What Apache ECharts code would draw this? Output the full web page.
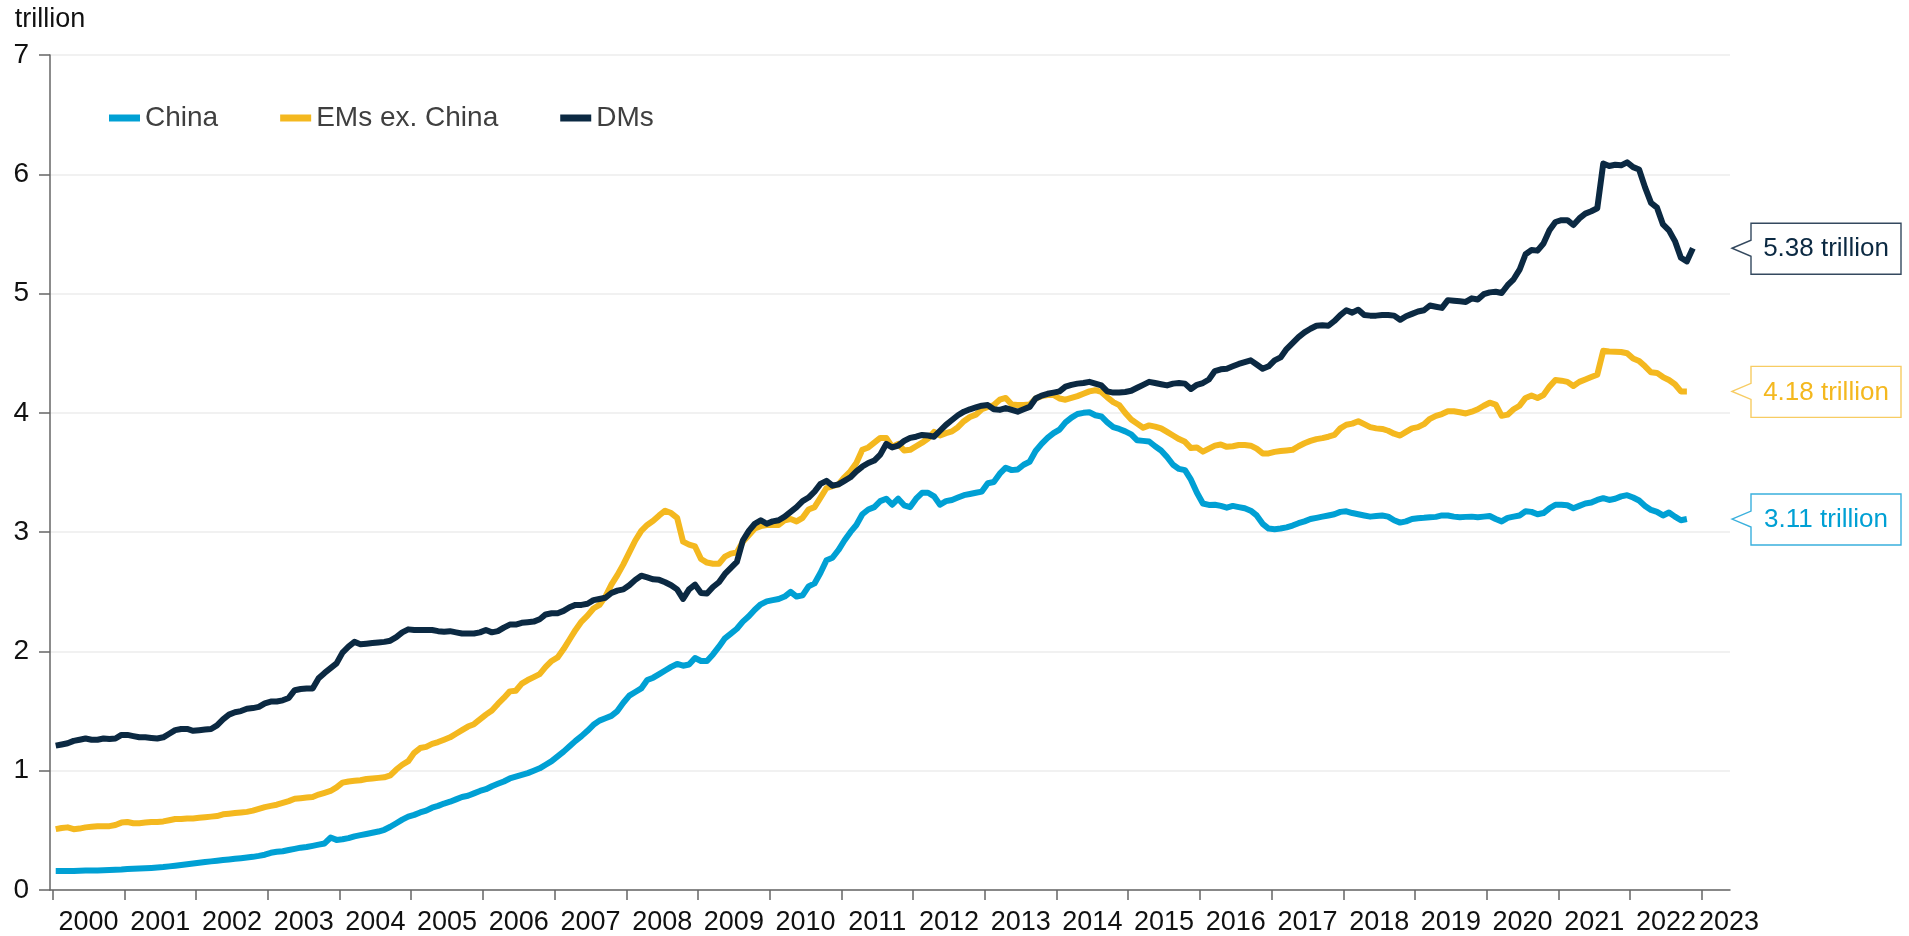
<!DOCTYPE html>
<html>
<head>
    <meta charset="utf-8"/>
    <title>China / EMs ex. China / DMs</title>
    <script src="https://cdn.jsdelivr.net/npm/echarts@6/dist/echarts.min.js"></script>
    <style>
        html, body { margin: 0; padding: 0; background: #fff; }
        #main { width: 1909px; height: 936px; }
    </style>
</head>
<body>
<div id="main"></div>
<script type="text/javascript">
    // 月度数据，2000年1月起
    var startYear = 2000;
    var seriesNames = ['China', 'EMs ex. China', 'DMs'];
    var colors = ['#00a0d4', '#f4b81f', '#0b2942'];

    var china = [
        0.16, 0.16, 0.16, 0.16, 0.162, 0.163, 0.163, 0.164, 0.165, 0.167, 0.17, 0.172,
        0.176, 0.178, 0.18, 0.182, 0.185, 0.188, 0.192, 0.198, 0.204, 0.21, 0.216, 0.222,
        0.228, 0.234, 0.24, 0.246, 0.251, 0.256, 0.262, 0.267, 0.272, 0.278, 0.286, 0.296,
        0.312, 0.32, 0.325, 0.335, 0.345, 0.355, 0.36, 0.37, 0.38, 0.39, 0.44, 0.42,
        0.425, 0.435, 0.45, 0.46, 0.47, 0.48, 0.49, 0.505, 0.53, 0.56, 0.59, 0.615,
        0.63, 0.65, 0.665, 0.69, 0.705, 0.725, 0.74, 0.76, 0.78, 0.79, 0.81, 0.83,
        0.845, 0.87, 0.89, 0.91, 0.935, 0.95, 0.965, 0.98, 1.0, 1.02, 1.05, 1.08,
        1.12, 1.16, 1.205, 1.25, 1.29, 1.335, 1.385, 1.42, 1.44, 1.46, 1.50, 1.57,
        1.63, 1.66, 1.69, 1.76, 1.78, 1.81, 1.84, 1.87, 1.895, 1.88, 1.89, 1.945,
        1.92, 1.92, 1.975, 2.04, 2.11, 2.15, 2.19, 2.25, 2.295, 2.35, 2.395, 2.42,
        2.43, 2.44, 2.46, 2.50, 2.46, 2.47, 2.545, 2.57, 2.66, 2.765, 2.785, 2.85,
        2.93, 3.00, 3.06, 3.15, 3.19, 3.21, 3.26, 3.28, 3.23, 3.28, 3.225, 3.21,
        3.28, 3.33, 3.33, 3.30, 3.23, 3.26, 3.27, 3.29, 3.31, 3.32, 3.33, 3.34,
        3.41, 3.42, 3.49, 3.54, 3.52, 3.525, 3.565, 3.59, 3.68, 3.74, 3.79, 3.83,
        3.86, 3.92, 3.96, 3.99, 4.00, 4.005, 3.98, 3.97, 3.92, 3.88, 3.865, 3.845,
        3.82, 3.77, 3.765, 3.76, 3.72, 3.685, 3.63, 3.565, 3.53, 3.52, 3.44, 3.33,
        3.24, 3.228, 3.23, 3.22, 3.205, 3.22, 3.21, 3.20, 3.18, 3.14, 3.07, 3.03,
        3.025, 3.03, 3.04, 3.055, 3.075, 3.09, 3.11, 3.12, 3.13, 3.14, 3.15, 3.17,
        3.175, 3.16, 3.15, 3.14, 3.13, 3.135, 3.14, 3.13, 3.10, 3.08, 3.09, 3.11,
        3.117, 3.12, 3.125, 3.128, 3.14, 3.14, 3.13, 3.125, 3.128, 3.13, 3.125, 3.13,
        3.135, 3.11, 3.09, 3.12, 3.13, 3.14, 3.175, 3.17, 3.15, 3.16, 3.20, 3.23,
        3.23, 3.225, 3.20, 3.22, 3.24, 3.248, 3.27, 3.285, 3.27, 3.28, 3.30, 3.31,
        3.29, 3.265, 3.22, 3.186, 3.17, 3.14, 3.165, 3.13, 3.10, 3.11
    ];

    var emsExChina = [
        0.51, 0.52, 0.525, 0.51, 0.515, 0.525, 0.53, 0.535, 0.535, 0.535, 0.545, 0.565,
        0.57, 0.56, 0.56, 0.565, 0.57, 0.57, 0.575, 0.585, 0.595, 0.595, 0.60, 0.60,
        0.605, 0.61, 0.615, 0.62, 0.635, 0.64, 0.645, 0.65, 0.655, 0.665, 0.68, 0.695,
        0.705, 0.715, 0.73, 0.745, 0.765, 0.77, 0.775, 0.78, 0.80, 0.815, 0.83, 0.86,
        0.90, 0.91, 0.915, 0.92, 0.93, 0.935, 0.94, 0.945, 0.96, 1.01, 1.05, 1.08,
        1.15, 1.19, 1.20, 1.225, 1.24, 1.26, 1.28, 1.31, 1.34, 1.37, 1.39, 1.43,
        1.47, 1.505, 1.56, 1.61, 1.665, 1.67, 1.73, 1.76, 1.785, 1.81, 1.87, 1.92,
        1.95, 2.02, 2.10, 2.18, 2.25, 2.30, 2.36, 2.39, 2.46, 2.56, 2.64, 2.73,
        2.83, 2.93, 3.01, 3.06, 3.095, 3.14, 3.18, 3.16, 3.12, 2.92, 2.895, 2.88,
        2.775, 2.745, 2.735, 2.735, 2.795, 2.82, 2.83, 2.92, 2.975, 3.03, 3.05, 3.06,
        3.06, 3.06, 3.10, 3.11, 3.09, 3.12, 3.19, 3.21, 3.29, 3.37, 3.385, 3.40,
        3.46, 3.51, 3.58, 3.69, 3.71, 3.75, 3.79, 3.79, 3.715, 3.74, 3.685, 3.69,
        3.72, 3.75, 3.785, 3.84, 3.81, 3.83, 3.845, 3.88, 3.93, 3.965, 3.985, 4.03,
        4.05, 4.065, 4.11, 4.125, 4.07, 4.065, 4.065, 4.07, 4.12, 4.14, 4.15, 4.15,
        4.12, 4.11, 4.125, 4.14, 4.16, 4.18, 4.19, 4.175, 4.13, 4.09, 4.065, 4.00,
        3.945, 3.91, 3.875, 3.895, 3.885, 3.87, 3.84, 3.81, 3.78, 3.757, 3.705, 3.71,
        3.675, 3.70, 3.725, 3.735, 3.715, 3.72, 3.73, 3.73, 3.725, 3.70, 3.66, 3.66,
        3.673, 3.68, 3.685, 3.69, 3.72, 3.745, 3.765, 3.78, 3.788, 3.80, 3.815, 3.87,
        3.90, 3.91, 3.93, 3.905, 3.88, 3.87, 3.865, 3.85, 3.825, 3.81, 3.84, 3.87,
        3.88, 3.905, 3.95, 3.975, 3.99, 4.013, 4.013, 4.005, 3.995, 4.01, 4.03, 4.06,
        4.085, 4.07, 3.975, 3.985, 4.03, 4.06, 4.125, 4.145, 4.125, 4.15, 4.22, 4.275,
        4.27, 4.26, 4.225, 4.26, 4.28, 4.30, 4.32, 4.52, 4.515, 4.513, 4.51, 4.50,
        4.455, 4.435, 4.39, 4.34, 4.335, 4.30, 4.275, 4.24, 4.18, 4.18
    ];

    var dms = [
        1.21, 1.22, 1.23, 1.25, 1.26, 1.27, 1.26, 1.26, 1.27, 1.265, 1.27, 1.30,
        1.30, 1.29, 1.28, 1.28, 1.275, 1.27, 1.28, 1.31, 1.34, 1.35, 1.35, 1.335,
        1.34, 1.345, 1.35, 1.38, 1.43, 1.47, 1.49, 1.50, 1.52, 1.525, 1.535, 1.565,
        1.58, 1.58, 1.59, 1.61, 1.675, 1.685, 1.69, 1.69, 1.775, 1.82, 1.86, 1.90,
        1.99, 2.04, 2.08, 2.06, 2.065, 2.07, 2.075, 2.08, 2.09, 2.12, 2.16, 2.185,
        2.18, 2.18, 2.18, 2.18, 2.17, 2.165, 2.17, 2.16, 2.15, 2.15, 2.15, 2.16,
        2.18, 2.16, 2.17, 2.20, 2.225, 2.225, 2.24, 2.245, 2.25, 2.27, 2.31, 2.32,
        2.32, 2.34, 2.37, 2.39, 2.39, 2.40, 2.43, 2.44, 2.45, 2.49, 2.51, 2.52,
        2.555, 2.60, 2.635, 2.62, 2.605, 2.60, 2.58, 2.555, 2.52, 2.44, 2.52, 2.56,
        2.49, 2.485, 2.54, 2.58, 2.65, 2.70, 2.75, 2.93, 3.01, 3.07, 3.10, 3.07,
        3.09, 3.10, 3.13, 3.17, 3.21, 3.26, 3.29, 3.34, 3.405, 3.43, 3.39, 3.40,
        3.43, 3.46, 3.51, 3.55, 3.58, 3.60, 3.65, 3.74, 3.71, 3.725, 3.765, 3.79,
        3.80, 3.815, 3.81, 3.80, 3.85, 3.90, 3.94, 3.98, 4.01, 4.03, 4.045, 4.06,
        4.065, 4.03, 4.025, 4.04, 4.025, 4.01, 4.03, 4.05, 4.12, 4.145, 4.16, 4.17,
        4.18, 4.22, 4.235, 4.245, 4.25, 4.26, 4.245, 4.23, 4.18, 4.17, 4.17, 4.175,
        4.185, 4.21, 4.235, 4.26, 4.25, 4.24, 4.23, 4.245, 4.25, 4.245, 4.20, 4.235,
        4.25, 4.28, 4.35, 4.365, 4.37, 4.39, 4.41, 4.425, 4.44, 4.405, 4.37, 4.39,
        4.44, 4.465, 4.535, 4.585, 4.635, 4.675, 4.705, 4.73, 4.735, 4.73, 4.77, 4.82,
        4.86, 4.84, 4.865, 4.82, 4.815, 4.815, 4.82, 4.82, 4.815, 4.78, 4.81, 4.83,
        4.85, 4.86, 4.90, 4.89, 4.88, 4.945, 4.94, 4.935, 4.93, 4.96, 4.95, 4.995,
        5.01, 5.015, 5.005, 5.07, 5.12, 5.20, 5.33, 5.365, 5.36, 5.42, 5.53, 5.60,
        5.615, 5.615, 5.575, 5.63, 5.67, 5.69, 5.715, 6.09, 6.07, 6.08, 6.075, 6.10,
        6.06, 6.04, 5.89, 5.76, 5.72, 5.58, 5.53, 5.44, 5.30, 5.27, 5.38
    ];

    // x 轴刻度（年初）与标签（年中）
    var yearTicks = [];
    var yearLabels = [];
    for (var y = 2000; y <= 2023; y++) {
        yearTicks.push(y);
        yearLabels.push(y < 2023 ? y + 0.5 : 2023.38);
    }
    var xMin = 1999.962;
    var xMax = 2023.393;

    // 把月份序号换成年份小数（月中）
    function toPairs(arr) {
        var out = [];
        for (var i = 0; i < arr.length; i++) {
            out.push([startYear + (i + 0.5) / 12, arr[i]]);
        }
        return out;
    }

    var allSeries = [china, emsExChina, dms];
    var calloutBorder = ['#3ab0dd', '#f7cc63', '#34495f'];
    var calloutData = allSeries.map(function (arr, k) {
        return [xMax, arr[arr.length - 1], k];
    });

    var myChart = echarts.init(document.getElementById('main'), null, {renderer: 'canvas'});

    var font = '"Liberation Sans", Arial, sans-serif';

    var lineSeries = allSeries.map(function (arr, k) {
        return {
            name: seriesNames[k],
            type: 'line',
            data: toPairs(arr),
            showSymbol: false,
            symbol: 'none',
            lineStyle: {width: 6, color: colors[k], join: 'round'},
            itemStyle: {color: colors[k]},
            z: 2 + k
        };
    });

    lineSeries.push({
        type: 'custom',
        name: 'callout',
        clip: false,
        z: 10,
        data: calloutData,
        renderItem: function (params, api) {
            var cs = params.coordSys;
            var k = api.value(2);
            var yy = api.coord([xMax, api.value(1)])[1];
            var tipX = cs.x + cs.width + 2;
            var bx = tipX + 19;
            var bw = 150;
            var top = yy - 25;
            var bot = yy + 26;
            return {
                type: 'group',
                children: [
                    {
                        type: 'polygon',
                        shape: {
                            points: [[tipX, yy], [bx, yy - 8], [bx, top], [bx + bw, top],
                                [bx + bw, bot], [bx, bot], [bx, yy + 8]]
                        },
                        style: {fill: '#ffffff', stroke: calloutBorder[k], lineWidth: 1.4}
                    },
                    {
                        type: 'text',
                        style: {
                            x: bx + bw / 2,
                            y: yy + 1,
                            text: api.value(1).toFixed(2) + ' trillion',
                            fill: colors[k],
                            fontSize: 26,
                            fontFamily: font,
                            align: 'center',
                            verticalAlign: 'middle'
                        }
                    }
                ]
            };
        }
    });

    var option = {
        animation: false,
        backgroundColor: '#ffffff',
        textStyle: {fontFamily: font},
        grid: {left: 50, right: 179, top: 55, bottom: 43, containLabel: false},
        legend: {
            data: seriesNames,
            left: 104,
            top: 99,
            icon: 'rect',
            itemWidth: 31,
            itemHeight: 7,
            itemGap: 62,
            textStyle: {fontSize: 28, color: '#3f3f3f', fontFamily: font}
        },
        xAxis: {
            type: 'value',
            min: xMin,
            max: xMax,
            splitLine: {show: false},
            axisLine: {show: true, lineStyle: {color: '#666666', width: 1.5}},
            axisTick: {
                show: true,
                length: 10,
                customValues: yearTicks,
                lineStyle: {color: '#666666', width: 1.5}
            },
            axisLabel: {
                customValues: yearLabels,
                margin: 19,
                fontSize: 27,
                color: '#111111',
                fontFamily: font,
                formatter: function (v) {
                    return String(Math.floor(v + 1e-6));
                }
            }
        },
        yAxis: {
            type: 'value',
            min: 0,
            max: 7,
            interval: 1,
            name: 'trillion',
            nameLocation: 'end',
            nameGap: 22,
            nameTextStyle: {fontSize: 27, color: '#111111', fontFamily: font},
            axisLine: {show: true, lineStyle: {color: '#666666', width: 1.5}},
            axisTick: {show: true, length: 11, lineStyle: {color: '#666666', width: 1.5}},
            axisLabel: {margin: 21, fontSize: 28, color: '#111111', fontFamily: font},
            splitLine: {show: true, lineStyle: {color: '#ececec', width: 1.5}}
        },
        series: lineSeries
    };

    myChart.setOption(option);
</script>
</body>
</html>
